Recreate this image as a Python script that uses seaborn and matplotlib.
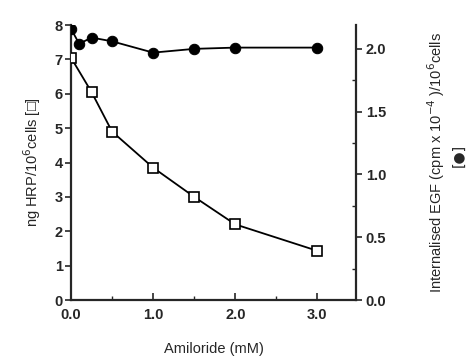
import matplotlib
matplotlib.use("Agg")
import matplotlib.pyplot as plt
import seaborn as sns
import pandas as pd
from matplotlib.ticker import MultipleLocator, FormatStrFormatter

# Data
amiloride_hrp = [0.0, 0.25, 0.5, 1.0, 1.5, 2.0, 3.0]
hrp_ng = [7.05, 6.05, 4.9, 3.85, 3.0, 2.2, 1.43]
amiloride_egf = [0.0, 0.1, 0.25, 0.5, 1.0, 1.5, 2.0, 3.0]
egf_cpm = [2.16, 2.04, 2.09, 2.06, 1.97, 2.0, 2.01, 2.01]

x_ticks = [0.0, 1.0, 2.0, 3.0]
left_ticks = [0, 1, 2, 3, 4, 5, 6, 7, 8]
right_ticks = [0.0, 0.5, 1.0, 1.5, 2.0]

sns.set_style("ticks")
plt.rcParams['font.family'] = ['Liberation Sans', 'DejaVu Sans']

df_hrp = pd.DataFrame({"x": amiloride_hrp, "y": hrp_ng})
df_egf = pd.DataFrame({"x": amiloride_egf, "y": egf_cpm})

fig = plt.figure(figsize=(4.69, 3.6), dpi=100)
ax = fig.add_axes([71/469, 60/360, (356-71)/469, 275/360])
ax2 = ax.twinx()

sns.lineplot(data=df_hrp, x="x", y="y", ax=ax, color="black", lw=1.3,
             marker="s", markersize=6.5, markerfacecolor="white",
             markeredgecolor="black", markeredgewidth=1.2, zorder=3)
sns.lineplot(data=df_egf, x="x", y="y", ax=ax2, color="black", lw=1.3,
             marker="o", markersize=7.5, markerfacecolor="black",
             markeredgecolor="black", zorder=3)

ax.set_xlim(0, 3.47)
ax.set_ylim(0, 8)
ax2.set_ylim(0, 2.19)

ax.set_xticks(x_ticks)
ax.xaxis.set_minor_locator(MultipleLocator(0.5))
ax.xaxis.set_major_formatter(FormatStrFormatter('%.1f'))
ax.set_yticks(left_ticks)
ax2.set_yticks(right_ticks)
ax2.yaxis.set_minor_locator(MultipleLocator(0.25))
ax2.yaxis.set_major_formatter(FormatStrFormatter('%.1f'))

for a in (ax, ax2):
    a.spines['top'].set_visible(False)
    for s in a.spines.values():
        s.set_linewidth(1.6)
ax.spines['right'].set_visible(False)
ax2.spines['left'].set_visible(False)
ax2.spines['bottom'].set_visible(False)

ax.tick_params(axis='x', direction='in', length=5, width=1.2, labelsize=10.5, pad=6)
ax.tick_params(axis='x', which='minor', direction='in', length=3, width=1)
ax.tick_params(axis='y', direction='out', length=4, width=1.2, labelsize=10.5, pad=2)
ax2.tick_params(axis='y', direction='out', length=4, width=1.2, labelsize=10.5, pad=3)
ax2.tick_params(axis='y', which='minor', direction='in', length=3, width=1)

for lab in ax.get_xticklabels() + ax.get_yticklabels() + ax2.get_yticklabels():
    lab.set_fontweight('bold')

ax.set_xlabel("Amiloride (mM)", fontsize=10.5, labelpad=14)
ax.set_ylabel("ng HRP/10$^{6}$cells [\u25a1]", fontsize=10.5, labelpad=8)
ax2.set_ylabel("Internalised EGF (cpm x 10$^{-4}$ )/10$^{6}$cells", fontsize=10.5, labelpad=28)
fig.text(459/469, 1 - 155/360, "[\u25cf]", rotation=90, ha='center', va='center', fontsize=10,
         family=['DejaVu Sans'])

fig.savefig("out.png", dpi=100)
